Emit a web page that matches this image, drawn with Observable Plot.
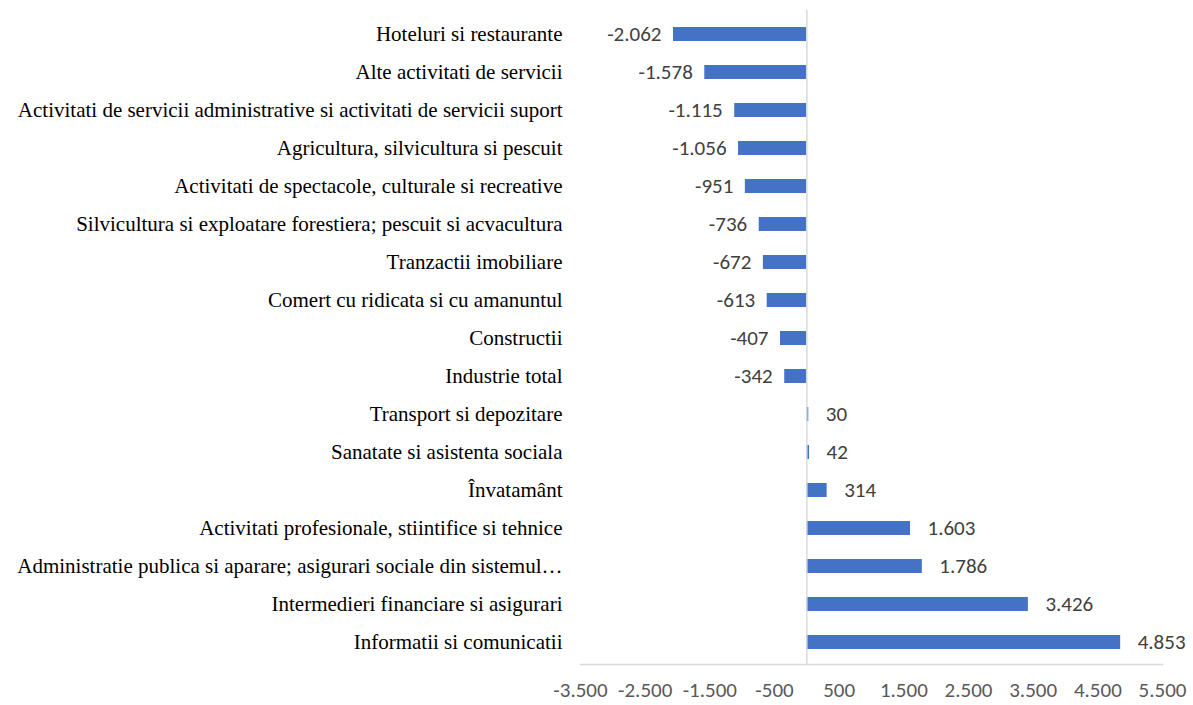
<!DOCTYPE html>
<html>
<head>
<meta charset="utf-8">
<script src="https://cdn.jsdelivr.net/npm/d3@7"></script>
<script src="https://cdn.jsdelivr.net/npm/@observablehq/plot@0.6"></script>
<style>
  html, body { margin: 0; padding: 0; background: #fff; }
</style>
</head>
<body>
<div id="chart"></div>
<script>
const categories = [
  "Hoteluri si restaurante",
  "Alte activitati de servicii",
  "Activitati de servicii administrative si activitati de servicii suport",
  "Agricultura, silvicultura si pescuit",
  "Activitati de spectacole, culturale si recreative",
  "Silvicultura si exploatare forestiera; pescuit si acvacultura",
  "Tranzactii imobiliare",
  "Comert cu ridicata si cu amanuntul",
  "Constructii",
  "Industrie total",
  "Transport si depozitare",
  "Sanatate si asistenta sociala",
  "Învatamânt",
  "Activitati profesionale, stiintifice si tehnice",
  "Administratie publica si aparare; asigurari sociale din sistemul…",
  "Intermedieri financiare si asigurari",
  "Informatii si comunicatii"
];
const values = [-2062, -1578, -1115, -1056, -951, -736, -672, -613, -407, -342, 30, 42, 314, 1603, 1786, 3426, 4853];
const xTicks = [-3500, -2500, -1500, -500, 500, 1500, 2500, 3500, 4500, 5500];

const data = categories.map((c, i) => ({category: c, value: values[i]}));
const neg = data.filter(d => d.value < 0);
const pos = data.filter(d => d.value >= 0);
const loc = d3.formatLocale({decimal: ",", thousands: ".", grouping: [3], currency: ["", ""], minus: "-"});
const fmt = loc.format(",d");
const sans = "Carlito, 'Open Sans', 'Liberation Sans', sans-serif";
const serif = "'Liberation Serif', 'Times New Roman', serif";

const chart = Plot.plot({
  width: 1193,
  height: 705,
  marginLeft: 580,
  marginRight: 31,
  marginTop: 13,
  marginBottom: 41,
  style: {background: "#fff"},
  x: {domain: [-3500, 5500], ticks: xTicks, tickFormat: fmt},
  y: {domain: categories, paddingInner: 0.63, paddingOuter: 0.315, align: 0.5},
  marks: [
    Plot.frame({anchor: "bottom", stroke: "#d9d9d9", strokeWidth: 1.5}),
    Plot.barX(data, {x: "value", y: "category", fill: "#4472C4"}),
    Plot.ruleX([0], {stroke: "#d9d9d9", strokeWidth: 1.5, insetTop: -3}),
    Plot.text(neg, {
      x: "value", y: "category", text: d => fmt(d.value),
      textAnchor: "end", dx: -12, fill: "#404040",
      fontSize: 21, fontFamily: sans
    }),
    Plot.text(pos, {
      x: "value", y: "category", text: d => fmt(d.value),
      textAnchor: "start", dx: 17, fill: "#404040",
      fontSize: 21, fontFamily: sans
    }),
    Plot.axisY({
      tickSize: 0, tickPadding: 18, label: null,
      fontSize: 21, fontFamily: serif, fill: "#000"
    }),
    Plot.axisX({
      ticks: xTicks, tickFormat: fmt, tickSize: 0, tickPadding: 18, label: null,
      fontSize: 21, fontFamily: sans, fill: "#595959"
    })
  ]
});
document.getElementById("chart").appendChild(chart);
</script>
</body>
</html>
